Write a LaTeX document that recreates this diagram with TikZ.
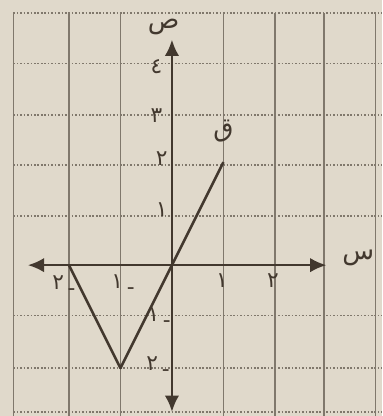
\documentclass[tikz,border=0pt]{standalone}
\usepackage{fontspec}
\usepackage{xcolor}
\usetikzlibrary{arrows.meta,positioning}
\TeXXeTstate=1
\newfontfamily\arabicfont[Script=Arabic]{DejaVu Sans}
\definecolor{Paper}{RGB}{224,217,203}
\definecolor{Ink}{RGB}{66,56,46}
\definecolor{GridGray}{RGB}{128,120,108}
\newcommand{\negsign}{\raisebox{-0.45ex}{-}\,}

\begin{document}
\begin{tikzpicture}[
  axis/.style={Ink,line width=1.4pt,{Latex[length=9pt,width=8pt]}-{Latex[length=9pt,width=8pt]}},
  gridv/.style={GridGray,line width=0.8pt},
  gridh/.style={GridGray,line width=0.9pt,densely dotted},
  curve/.style={Ink,line width=1.4pt,line join=round},
  lbl/.style={font=\arabicfont\large,text=Ink,inner sep=1pt},
  letter/.style={font=\arabicfont\Large,text=Ink,inner sep=1pt},
]
% paper and page size
\fill[Paper] (-3.34,-2.93) rectangle (4.08,5.15);
\useasboundingbox (-3.34,-2.93) rectangle (4.08,5.15);
% graph paper
\foreach \gx in {-3.08,-2,-1,1,2,2.95,3.95}
  \draw[gridv] (\gx,-2.93) -- (\gx,4.9);
\foreach \gy in {4.9,3.92,2.92,1.94,0.95,-0.98,-2,-2.85}
  \draw[gridh] (-3.08,\gy) -- (4.08,\gy);
% axes
\coordinate (xl) at (-2.8,0);
\coordinate (xr) at (3,0);
\coordinate (yb) at (0,-2.85);
\coordinate (yt) at (0,4.38);
\draw[axis] (xl) -- (xr);
\draw[axis] (yb) -- (yt);
\node[letter] (sn) at (3.62,0.14) {\beginR س\endR};
\node[letter] (sd) at (-0.16,4.62) {\beginR ص\endR};
% ticks on the x axis
\node[lbl] (xm2) at (-2.1,-0.4) {\beginR\negsign ٢\endR};
\node[lbl] (xm1) at (-0.95,-0.38) {\beginR\negsign ١\endR};
\node[lbl] (xp1) at (0.97,-0.3) {١};
\node[lbl] (xp2) at (1.96,-0.3) {٢};
% ticks on the y axis
\node[lbl] (yp4) at (-0.3,3.86) {٤};
\node[lbl] (yp3) at (-0.3,2.91) {٣};
\node[lbl] (yp2) at (-0.2,2.06) {٢};
\node[lbl] (yp1) at (-0.2,1.07) {١};
\node[lbl] (ym1) at (-0.25,-1.02) {\beginR\negsign ١\endR};
\node[lbl] (ym2) at (-0.27,-1.97) {\beginR\negsign ٢\endR};
% the graph of q
\coordinate (qa) at (-2,0);
\coordinate (qb) at (-1,-2);
\coordinate (qc) at (1,2);
\draw[curve] (qa) -- (qb) -- (qc);
\node[letter] (qn) at (1.0,2.6) {\beginR ق\endR};
\end{tikzpicture}
\end{document}
